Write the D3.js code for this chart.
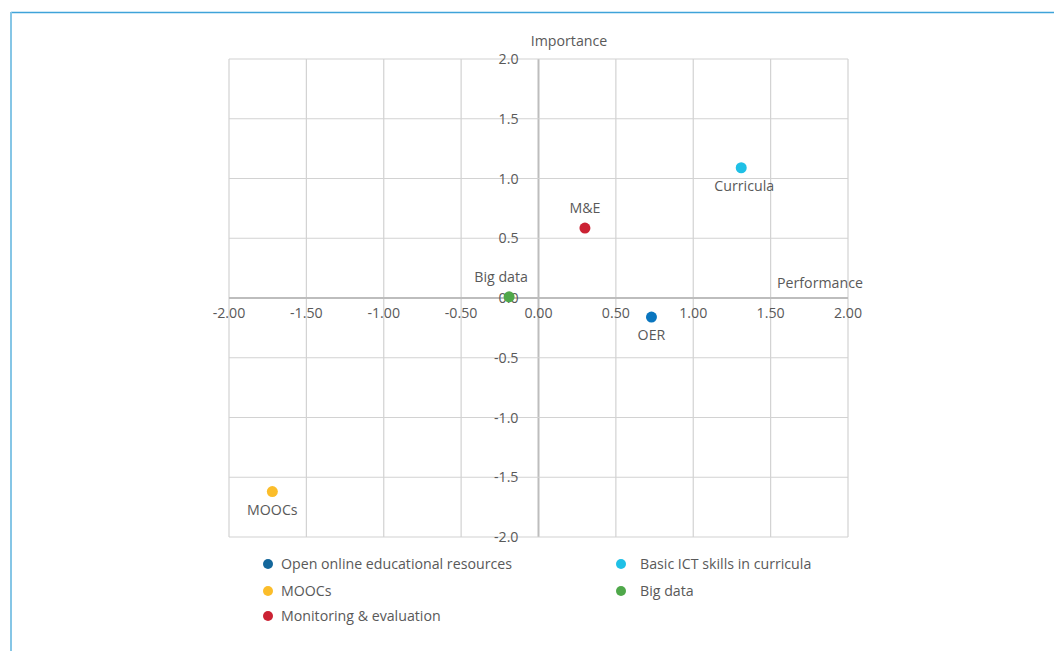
<!DOCTYPE html>
<html><head><meta charset="utf-8">
<script src="https://cdn.jsdelivr.net/npm/d3@7"></script>
<style>body{margin:0;background:#fff}svg{display:block}</style>
</head><body><svg id="c" width="1054" height="651"></svg>
<script>
const names = ["Open online educational resources","Basic ICT skills in curricula","MOOCs","Big data","Monitoring & evaluation"];
const shortLabels = ["OER","Curricula","MOOCs","Big data","M&E"];
const perfValues = [0.73, 1.31, -1.72, -0.19, 0.30];
const impValues = [-0.16, 1.09, -1.62, 0.01, 0.585];
const colors = ["#0a76bf","#1fc0e6","#fbbd2a","#4fa84a","#cb2233"];
const legendColors = ["#14679b","#1fc0e6","#fbbd2a","#4fa84a","#cb2233"];
const labelPos = ["below","below","below","above","above"];
const xTicks = [-2,-1.5,-1,-0.5,0,0.5,1,1.5,2];
const yTicks = [-2,-1.5,-1,-0.5,0,0.5,1,1.5,2];

const svg = d3.select("#c");
const font = "'Open Sans', 'Noto Sans', sans-serif";
const fs = 14.2;
const txt = "#595959";
const hy = s => s.replace("\u2212","-");

// frame
svg.append("line").attr("x1",11).attr("x2",1054).attr("y1",12.5).attr("y2",12.5).attr("stroke","#3fa3d9").attr("stroke-width",1.5);
svg.append("line").attr("x1",11).attr("x2",11).attr("y1",12).attr("y2",651).attr("stroke","#86c6e6").attr("stroke-width",2);

const x = d3.scaleLinear().domain([-2,2]).range([229,848]);
const y = d3.scaleLinear().domain([-2,2]).range([537,59]);

// gridlines
const g = svg.append("g");
g.selectAll(".vx").data(xTicks).join("line")
  .attr("x1",d=>x(d)).attr("x2",d=>x(d)).attr("y1",y(2)).attr("y2",y(-2))
  .attr("stroke",d=>d===0?"#bdbdbd":"#d2d2d2").attr("stroke-width",d=>d===0?2:1.2);
g.selectAll(".hy").data(yTicks).join("line")
  .attr("y1",d=>y(d)).attr("y2",d=>y(d)).attr("x1",x(-2)).attr("x2",x(2))
  .attr("stroke",d=>d===0?"#bdbdbd":"#d2d2d2").attr("stroke-width",d=>d===0?2:1.2);

// x tick labels
svg.selectAll(".xt").data(xTicks).join("text")
  .attr("x",d=>x(d)).attr("y",y(0)+20).attr("text-anchor","middle")
  .attr("font-family",font).attr("font-size",fs).attr("fill",txt)
  .text(d=>hy(d3.format(".2f")(d)));
// y tick labels
svg.selectAll(".yt").data(yTicks).join("text")
  .attr("x",x(0)-20).attr("y",d=>y(d)+5).attr("text-anchor","end")
  .attr("font-family",font).attr("font-size",fs).attr("fill",txt)
  .text(d=>hy(d3.format(".1f")(d)));

// axis titles
svg.append("text").attr("x",569).attr("y",46).attr("text-anchor","middle")
  .attr("font-family",font).attr("font-size",fs).attr("fill",txt).text("Importance");
svg.append("text").attr("x",820).attr("y",288).attr("text-anchor","middle")
  .attr("font-family",font).attr("font-size",fs).attr("fill",txt).text("Performance");

// points
const data = names.map((n,i)=>({n,s:shortLabels[i],px:perfValues[i],py:impValues[i],c:colors[i],lp:labelPos[i]}));
svg.selectAll(".pt").data(data).join("circle")
  .attr("cx",d=>x(d.px)).attr("cy",d=>y(d.py)).attr("r",5.5).attr("fill",d=>d.c);
svg.selectAll(".pl").data(data).join("text")
  .attr("x",d=>x(d.px)+(d.s==="Big data"?-8:(d.s==="Curricula"?3:0)))
  .attr("y",d=>d.lp==="below"?y(d.py)+23:y(d.py)-15)
  .attr("text-anchor","middle")
  .attr("font-family",font).attr("font-size",fs).attr("fill",txt).text(d=>d.s);

// legend
const legPos = [[268,564],[621,564],[268,591],[621,591],[268,616]];
const lg = svg.selectAll(".lg").data(names).join("g")
  .attr("transform",(d,i)=>`translate(${legPos[i][0]},${legPos[i][1]})`);
lg.append("circle").attr("r",5).attr("fill",(d,i)=>legendColors[i]);
lg.append("text").attr("x",(d,i)=>i%2===0?13:19).attr("y",5)
  .attr("font-family",font).attr("font-size",fs).attr("fill",txt).text(d=>d);
</script></body></html>
